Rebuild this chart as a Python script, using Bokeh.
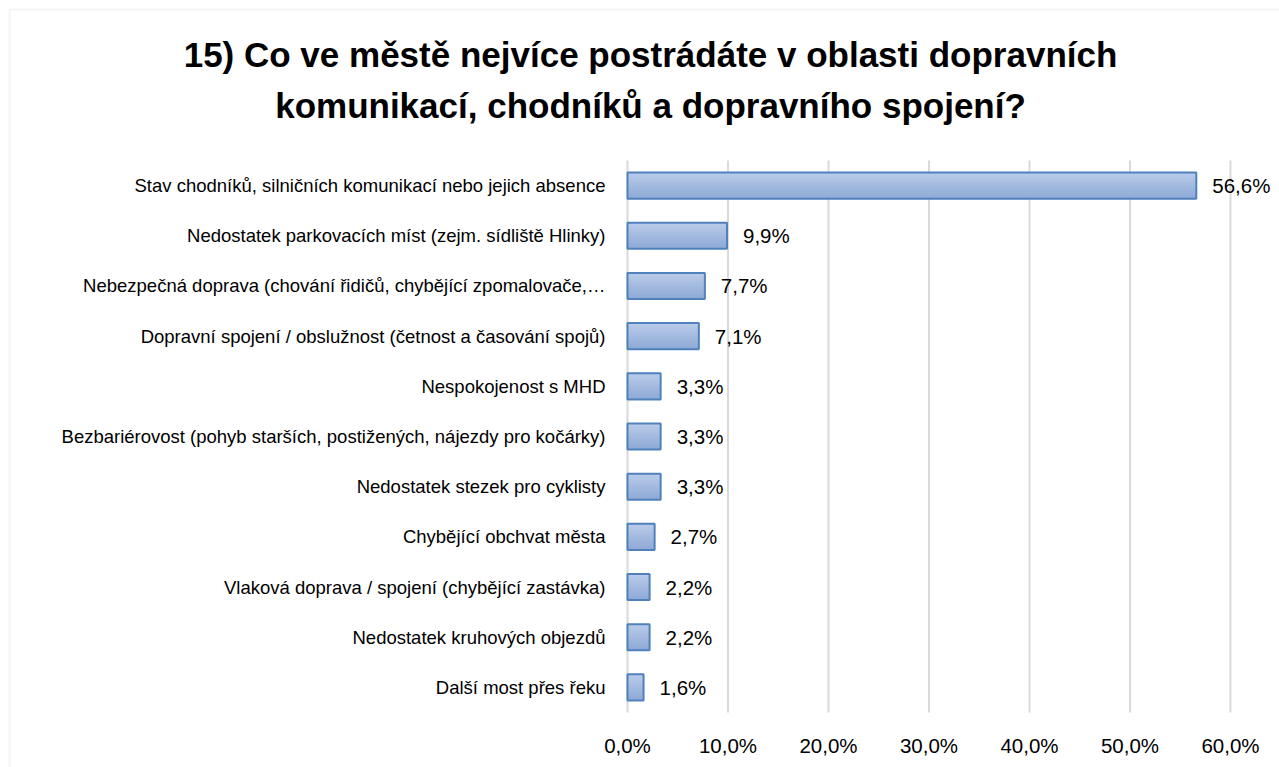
from bokeh.plotting import figure
from bokeh.models import Range1d, Label, BoxAnnotation, ColumnDataSource
from bokeh.core.properties import value
from bokeh.embed import file_html
from bokeh.resources import INLINE

categories = [
    "Stav chodníků, silničních komunikací nebo jejich absence",
    "Nedostatek parkovacích míst (zejm. sídliště Hlinky)",
    "Nebezpečná doprava (chování řidičů, chybějící zpomalovače,…",
    "Dopravní spojení / obslužnost (četnost a časování spojů)",
    "Nespokojenost s MHD",
    "Bezbariérovost (pohyb starších, postižených, nájezdy pro kočárky)",
    "Nedostatek stezek pro cyklisty",
    "Chybějící obchvat města",
    "Vlaková doprava / spojení (chybějící zastávka)",
    "Nedostatek kruhových objezdů",
    "Další most přes řeku",
]
values = [56.6, 9.9, 7.7, 7.1, 3.3, 3.3, 3.3, 2.7, 2.2, 2.2, 1.6]
value_labels = ["56,6%", "9,9%", "7,7%", "7,1%", "3,3%", "3,3%", "3,3%", "2,7%", "2,2%", "2,2%", "1,6%"]
x_ticks = [0, 10, 20, 30, 40, 50, 60]
x_tick_labels = ["0,0%", "10,0%", "20,0%", "30,0%", "40,0%", "50,0%", "60,0%"]
title_lines = ["15) Co ve městě nejvíce postrádáte v oblasti dopravních",
               "komunikací, chodníků a dopravního spojení?"]

FONT = "Liberation Sans"
n_cat = len(categories)
idx = list(range(n_cat))

src = ColumnDataSource(dict(cat=categories, idx=idx, val=values, lab=value_labels))
tick_src = ColumnDataSource(dict(x=x_ticks, lab=x_tick_labels,
                                 y0=[-0.5] * len(x_ticks), y1=[n_cat - 0.5] * len(x_ticks)))

W, H = 1279, 767
p = figure(width=W, height=H, output_backend="svg", toolbar_location=None,
           x_range=Range1d(-62.39, 64.88), y_range=Range1d(11.596, -3.689),
           x_axis_location=None, y_axis_location=None)
p.min_border = 0
p.min_border_left = 0
p.min_border_right = 0
p.min_border_top = 0
p.min_border_bottom = 0
p.outline_line_color = None
p.background_fill_color = "white"
p.border_fill_color = "white"
p.title.visible = False
p.xgrid.visible = False
p.ygrid.visible = False

# vertical gridlines at the tick positions, spanning the category band
p.segment(x0="x", x1="x", y0="y0", y1="y1", source=tick_src,
          line_color="#d9d9d9", line_width=2)

# x tick labels under the category band
p.text(x="x", y="y1", text="lab", source=tick_src, y_offset=33,
       text_baseline="middle", text_align="center",
       text_font=value(FONT), text_font_size="20.5px", text_color="#000000")

# gradient-like fill: stacked strips, each reaching the bar bottom
n = 14
bar_h = 0.52
top_c = (0xb9, 0xcb, 0xe8)
bot_c = (0x8e, 0xaa, 0xd7)
for i in range(n):
    t = i / (n - 1)
    c = tuple(int(round(top_c[k] + (bot_c[k] - top_c[k]) * t)) for k in range(3))
    col = "#%02x%02x%02x" % c
    top = -bar_h / 2 + i * bar_h / n
    bottom = bar_h / 2
    p.hbar(y=[v + (top + bottom) / 2 for v in idx], right=values, left=0,
           height=bottom - top, fill_color=col, line_color=None)
p.hbar(y="idx", right="val", left=0, height=bar_h, source=src,
       fill_color=None, line_color="#4f81bd", line_width=2)

# value labels
p.text(x="val", y="idx", text="lab", source=src, x_offset=16,
       text_baseline="middle", text_align="left",
       text_font=value(FONT), text_font_size="20.5px", text_color="#000000")

# category labels
p.text(x=0, y="idx", text="cat", source=src, x_offset=-22,
       text_baseline="middle", text_align="right",
       text_font=value(FONT), text_font_size="18.5px", text_color="#000000")

for line, ymid in zip(title_lines, [53.5, 105]):
    p.add_layout(Label(x=650, y=ymid, x_units="canvas", y_units="canvas",
                       text=line, text_align="center", text_baseline="middle",
                       text_font=FONT, text_font_style="bold", text_font_size="35px",
                       text_color="#000000"))

p.add_layout(BoxAnnotation(left=9, right=3000, top=9, bottom=3000,
                           left_units="canvas", right_units="canvas",
                           top_units="canvas", bottom_units="canvas",
                           fill_color=None, line_color="#d9d9d9", line_width=2))

open("out.html", "w").write(file_html(p, INLINE))
